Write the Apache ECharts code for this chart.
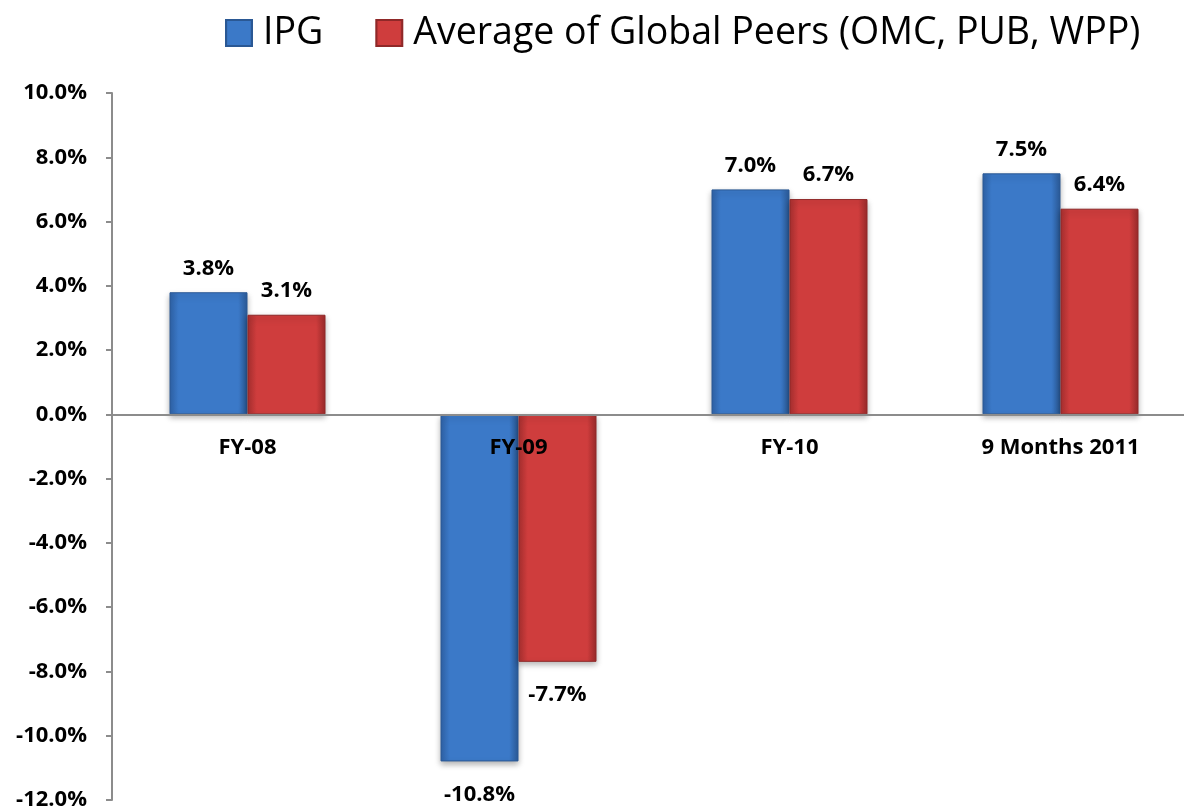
<!DOCTYPE html>
<html>
<head>
<meta charset="utf-8">
<script src="https://cdn.jsdelivr.net/npm/echarts@6/dist/echarts.min.js"></script>
<style>
html,body{margin:0;padding:0;background:#fff;}
#chart{width:1184px;height:811px;}
</style>
</head>
<body>
<div id="chart"></div>
<script>
var categories = ['FY-08', 'FY-09', 'FY-10', '9 Months 2011'];
var ipgValues = [3.8, -10.8, 7.0, 7.5];
var peerValues = [3.1, -7.7, 6.7, 6.4];
var seriesNames = ['IPG', 'Average of Global Peers (OMC, PUB, WPP)'];

var FONT = '"Open Sans", sans-serif';

function grad(c0, c1, c2) {
  return new echarts.graphic.LinearGradient(0, 0, 1, 0, [
    {offset: 0, color: c0},
    {offset: 0.12, color: c1},
    {offset: 0.88, color: c1},
    {offset: 1, color: c2}
  ]);
}
var blueFill = grad('#2f63a8', '#3b79c8', '#2b5b99');
var redFill = grad('#a93030', '#cf3d3d', '#9c2b2b');

function toData(arr, negDist) {
  return arr.map(function (v) {
    return v < 0 ? {value: v, label: {position: 'bottom', distance: negDist}} : v;
  });
}

var GRID_TOP = 93, GRID_H = 707, Y_MIN = -12, Y_MAX = 10;
var zeroOffset = -GRID_H * (0 - Y_MIN) / (Y_MAX - Y_MIN);

var chart = echarts.init(document.getElementById('chart'));
chart.setOption({
  animation: false,
  legend: {
    top: 9,
    left: 220,
    itemWidth: 26,
    itemHeight: 26,
    itemGap: 52,
    icon: 'rect',
    textStyle: {fontFamily: FONT, fontSize: 37.5, color: '#000', padding: [0, 0, 0, 6]},
    data: seriesNames
  },
  grid: {left: 112, top: GRID_TOP, width: 1084, height: GRID_H, containLabel: false, outerBoundsMode: 'none'},
  xAxis: {
    type: 'category',
    data: categories,
    position: 'bottom',
    offset: zeroOffset,
    z: 5,
    axisLine: {onZero: false, lineStyle: {color: '#8c8c8c', width: 2}},
    axisTick: {show: false},
    axisLabel: {fontFamily: FONT, fontSize: 22, fontWeight: 'bold', color: '#000', margin: 22}
  },
  yAxis: {
    type: 'value',
    min: Y_MIN, max: Y_MAX, interval: 2,
    axisLine: {show: true, lineStyle: {color: '#8c8c8c', width: 2}},
    axisTick: {show: true, length: 6, lineStyle: {color: '#8c8c8c', width: 2}},
    splitLine: {show: false},
    axisLabel: {
      fontFamily: FONT, fontSize: 22, fontWeight: 'bold', color: '#000', margin: 25,
      formatter: function (v) { return v.toFixed(1) + '%'; }
    }
  },
  series: [
    {
      name: seriesNames[0], type: 'bar', barWidth: 78, barGap: '0%',
      data: toData(ipgValues, 22),
      itemStyle: {color: blueFill, borderColor: '#2a5894', borderWidth: 1,
        shadowBlur: 6, shadowColor: 'rgba(0,0,0,0.3)', shadowOffsetY: 3},
      label: {show: true, position: 'top', distance: 13, fontFamily: FONT, fontSize: 22,
        fontWeight: 'bold', color: '#000', formatter: function (p) { return p.value.toFixed(1) + '%'; }}
    },
    {
      name: seriesNames[1], type: 'bar', barWidth: 78, barGap: '0%',
      data: toData(peerValues, 22),
      itemStyle: {color: redFill, borderColor: '#8f2828', borderWidth: 1,
        shadowBlur: 6, shadowColor: 'rgba(0,0,0,0.3)', shadowOffsetY: 3},
      label: {show: true, position: 'top', distance: 13, fontFamily: FONT, fontSize: 22,
        fontWeight: 'bold', color: '#000', formatter: function (p) { return p.value.toFixed(1) + '%'; }}
    }
  ]
});
</script>
</body>
</html>
